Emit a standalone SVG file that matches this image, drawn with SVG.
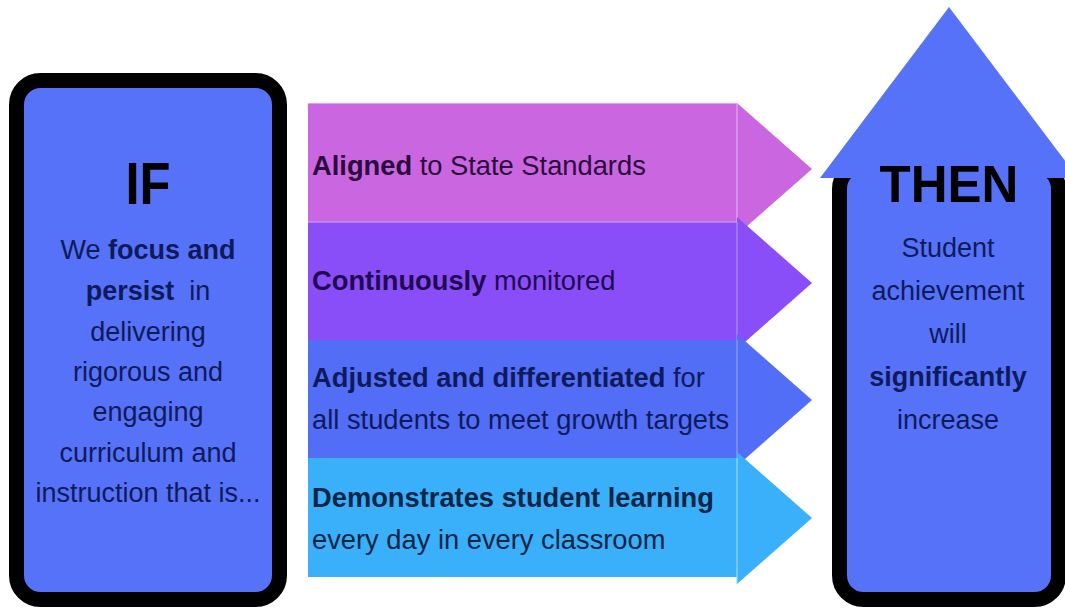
<svg xmlns="http://www.w3.org/2000/svg" width="1065" height="608" viewBox="0 0 1065 608">
<style>
text{font-family:"Liberation Sans",Arial,sans-serif;}
.b{font-weight:bold;}
.box{fill:#5672F8;stroke:#000;stroke-width:15;}
.body{font-size:27px;fill:#0f1a5a;text-anchor:middle;}
.band{font-size:27.3px;}
.title{font-weight:bold;fill:#000;text-anchor:middle;}
.sep{stroke-width:1.2;}
</style>
<rect width="1065" height="608" fill="#fff"/>
<g id="if-box">
<rect class="box" x="16.5" y="80.5" width="263" height="519" rx="24" ry="24"/>
<text class="title" font-size="59" transform="translate(148,204) scale(0.86,1)" x="0" y="0">IF</text>
<text class="body" x="148" y="259">We <tspan class="b">focus and</tspan></text>
<text class="body" x="148" y="300" xml:space="preserve"><tspan class="b">persist</tspan>  in</text>
<text class="body" x="148" y="341">delivering</text>
<text class="body" x="148" y="381">rigorous and</text>
<text class="body" x="148" y="421">engaging</text>
<text class="body" x="148" y="462">curriculum and</text>
<text class="body" x="148" y="502">instruction that is...</text>
</g>
<g id="band-aligned">
<rect x="308" y="103" width="429" height="119" fill="#C966E0"/>
<polygon points="737,103 812,169 737,235" fill="#C966E0"/>
<line class="sep" x1="737" y1="103" x2="737" y2="222" stroke="#E9A9F2"/>
<line class="sep" x1="308" y1="103.5" x2="737" y2="103.5" stroke="#E0A0EE"/>
<text class="band" x="312" y="175" fill="#2b0b3b"><tspan class="b">Aligned</tspan> to State Standards</text>
</g>
<g id="band-monitored">
<rect x="308" y="222" width="429" height="118" fill="#8A4EF8"/>
<polygon points="737,217 812,283 737,349" fill="#8A4EF8"/>
<line class="sep" x1="737" y1="222" x2="737" y2="340" stroke="#B08CFB"/>
<line class="sep" x1="308" y1="222" x2="737" y2="222" stroke="#D7A3F3"/>
<text class="band" x="312" y="290" fill="#1f0b50"><tspan class="b">Continuously</tspan> monitored</text>
</g>
<g id="band-adjusted">
<rect x="308" y="340" width="429" height="118" fill="#526DF6"/>
<polygon points="737,334 812,400 737,466" fill="#526DF6"/>
<line class="sep" x1="737" y1="340" x2="737" y2="458" stroke="#8FA0FA"/>
<text class="band" x="312" y="387" fill="#0f1a5a"><tspan class="b">Adjusted and differentiated</tspan> for</text>
<text class="band" x="312" y="429" fill="#0f1a5a">all students to meet growth targets</text>
</g>
<g id="band-demonstrates">
<rect x="308" y="458" width="429" height="119" fill="#3AAFFA"/>
<polygon points="737,452 812,518 737,584" fill="#3AAFFA"/>
<line class="sep" x1="737" y1="458" x2="737" y2="584" stroke="#9CD8FD"/>
<text class="band" x="312" y="507" fill="#0a2545"><tspan class="b">Demonstrates student learning</tspan></text>
<text class="band" x="312" y="549" fill="#0a2545">every day in every classroom</text>
</g>
<g id="then-arrow">
<rect class="box" x="839.5" y="165" width="219" height="434.5" rx="24" ry="24"/>
<polygon points="949,7 820,178 1078,178" fill="#5672F8"/>
<text class="title" font-size="51" x="949" y="202">THEN</text>
<text class="body" x="948" y="257">Student</text>
<text class="body" x="948" y="300">achievement</text>
<text class="body" x="948" y="343">will</text>
<text class="body b" x="948" y="386">significantly</text>
<text class="body" x="948" y="429">increase</text>
</g>
<g id="connectors"></g>
</svg>
